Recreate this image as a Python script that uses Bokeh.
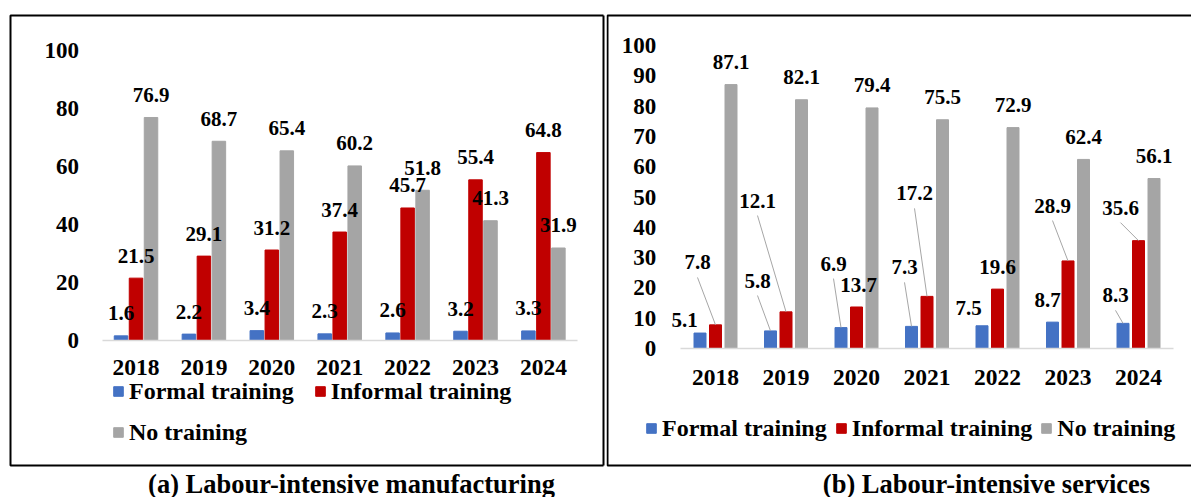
from bokeh.plotting import figure
from bokeh.models import ColumnDataSource, Range1d, LinearAxis, FixedTicker, Legend, LegendItem
from bokeh.layouts import row
from bokeh.core.properties import value
from bokeh.embed import file_html
from bokeh.resources import INLINE

# ---------------- data ----------------
years = ["2018", "2019", "2020", "2021", "2022", "2023", "2024"]
series_names = ["Formal training", "Informal training", "No training"]

manu_formal = [1.6, 2.2, 3.4, 2.3, 2.6, 3.2, 3.3]
manu_informal = [21.5, 29.1, 31.2, 37.4, 45.7, 55.4, 64.8]
manu_none = [76.9, 68.7, 65.4, 60.2, 51.8, 41.3, 31.9]

serv_formal = [5.1, 5.8, 6.9, 7.3, 7.5, 8.7, 8.3]
serv_informal = [7.8, 12.1, 13.7, 17.2, 19.6, 28.9, 35.6]
serv_none = [87.1, 82.1, 79.4, 75.5, 72.9, 62.4, 56.1]

y_ticks = [0, 20, 40, 60, 80, 100]
y_ticks_b = [0, 10, 20, 30, 40, 50, 60, 70, 80, 90, 100]

captions = ["(a) Labour-intensive manufacturing", "(b) Labour-intensive services"]

# ---------------- styles ----------------
FONT = "Liberation Serif"
COLORS = ["#4472C4", "#C00000", "#A5A5A5"]
H = 497

# label offsets (screen px, relative to bar top centre) for panel b
b_off = {
    0: ([-15.5, -13, -7.5, -7, -13.5, -5, -7.5], [-13.5, -50.4, -64, -59, -17.3, -22.6, -28],
        [False, True, True, True, False, False, True]),
    1: ([-18, -28.5, 2, -12.5, 0, -15.5, -18], [-62.4, -111.3, -21.5, -103, -22.6, -55.4, -33],
        [True, True, False, True, False, True, True]),
}


def make_panel(series, page_x0, width, cx0, cw, y0px, ppu, bar_off, bar_w, ticks,
               offsets, border, legend_specs, caption, cap_x, y_standoff, x_standoff):
    X = lambda px: (px - cx0) / cw
    Y = lambda py: (y0px - py) / ppu
    p = figure(width=width, height=H, output_backend="svg", toolbar_location=None,
               x_range=Range1d(X(page_x0), X(page_x0 + width)),
               y_range=Range1d(Y(H), Y(0)),
               x_axis_location=None, y_axis_location=None, min_border=0)
    p.outline_line_color = None
    p.xgrid.visible = False
    p.ygrid.visible = False
    p.background_fill_color = "white"
    p.border_fill_color = "white"

    # panel border
    bl, bt, br, bb = border
    p.line(x=[X(br), X(bl), X(bl), X(br)], y=[Y(bt), Y(bt), Y(bb), Y(bb)],
           line_color="black", line_width=2)
    if br < page_x0 + width:
        p.line(x=[X(br), X(br)], y=[Y(bt), Y(bb)], line_color="black", line_width=2)

    # axes
    xa = LinearAxis(fixed_location=0, ticker=FixedTicker(ticks=list(range(len(years)))),
                    major_label_overrides={i: y for i, y in enumerate(years)},
                    bounds=(-0.5, len(years) - 0.5))
    xa.axis_line_color = "#D9D9D9"
    xa.axis_line_width = 1.5
    xa.major_tick_line_color = None
    xa.minor_tick_line_color = None
    xa.major_label_text_font = FONT
    xa.major_label_text_font_style = "bold"
    xa.major_label_text_font_size = "23.5px"
    xa.major_label_text_color = "black"
    xa.major_label_standoff = x_standoff
    p.add_layout(xa, "below")

    ya = LinearAxis(fixed_location=-0.5, ticker=FixedTicker(ticks=ticks), bounds=(0, 100))
    ya.axis_line_color = None
    ya.major_tick_line_color = None
    ya.minor_tick_line_color = None
    ya.major_label_text_font = FONT
    ya.major_label_text_font_style = "bold"
    ya.major_label_text_font_size = "23px"
    ya.major_label_text_color = "black"
    ya.major_label_standoff = y_standoff
    p.add_layout(ya, "left")

    renderers = []
    bxs = []
    for k, vals in enumerate(series):
        bx = [i + (k - 1) * bar_off / cw for i in range(len(vals))]
        bxs.append(bx)
        src = ColumnDataSource(dict(x=bx, top=vals))
        r = p.vbar(x="x", top="top", bottom=0, width=bar_w / cw, source=src,
                   fill_color=COLORS[k], line_color=COLORS[k])
        renderers.append(r)

    for k, vals in enumerate(series):
        bx = bxs[k]
        dxs, dys, leads = offsets.get(k, ([0] * len(vals), [-22.5] * len(vals), [False] * len(vals)))
        lx = [bx[i] + dxs[i] / cw for i in range(len(vals))]
        ly = [vals[i] - dys[i] / ppu for i in range(len(vals))]
        seg = dict(x0=[], y0=[], x1=[], y1=[])
        for i in range(len(vals)):
            if leads[i]:
                seg["x0"].append(lx[i])
                seg["y0"].append(ly[i] - 15 / ppu)
                seg["x1"].append(bx[i])
                seg["y1"].append(vals[i])
        if seg["x0"]:
            p.segment(x0="x0", y0="y0", x1="x1", y1="y1", source=ColumnDataSource(seg),
                      line_color="#A6A6A6", line_width=1)
        lsrc = ColumnDataSource(dict(x=lx, y=ly, t=[f"{v:.1f}" for v in vals]))
        p.text(x="x", y="y", text="t", source=lsrc, text_font=value(FONT),
               text_font_style="bold", text_font_size="21px", text_color="black",
               text_align="center", text_baseline="middle")

    for items, loc, spacing in legend_specs:
        leg = Legend(items=[LegendItem(label=series_names[k], renderers=[renderers[k]]) for k in items],
                     location=loc, orientation="horizontal", spacing=spacing,
                     glyph_width=12, glyph_height=12, label_standoff=5, label_height=28,
                     padding=0, margin=0, border_line_color=None, background_fill_alpha=0,
                     label_text_font=FONT, label_text_font_style="bold",
                     label_text_font_size="24px", label_text_color="black")
        p.add_layout(leg)

    p.text(x=[X(cap_x)], y=[Y(483)], text=[caption], text_font=value(FONT),
           text_font_style="bold", text_font_size="26.5px", text_color="black",
           text_align="center", text_baseline="middle")
    return p


pa = make_panel([manu_formal, manu_informal, manu_none], 0, 606, 135.5, 67.9, 340, 2.9,
                15, 13.5, y_ticks, {}, (10, 15, 603, 465),
                [([0, 1], (112, 92), 20), ([2], (112, 51), 20)],
                captions[0], 351, 17, 13)
pb = make_panel([serv_formal, serv_informal, serv_none], 606, 585, 715, 70.5, 348, 3.03,
                15.5, 12, y_ticks_b, b_off, (607, 15, 1300, 465),
                [([0, 1, 2], (39, 55), 8)],
                captions[1], 986, 18, 15)

layout = row(pa, pb, spacing=0)
open("out.html", "w").write(file_html(layout, INLINE))
